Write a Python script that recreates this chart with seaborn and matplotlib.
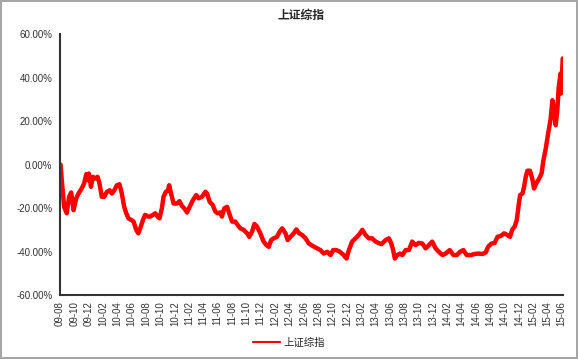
import pandas as pd
import matplotlib.pyplot as plt
import matplotlib.dates as mdates
import matplotlib.ticker as mticker
import seaborn as sns

# Shanghai Composite, cumulative change since Aug 2009 (%)
dates = [
    "2009-08-03", "2009-08-08", "2009-08-18", "2009-08-29", "2009-09-08", "2009-09-17", "2009-09-27",
    "2009-10-08", "2009-10-18", "2009-11-01", "2009-11-11", "2009-11-20", "2009-11-25", "2009-12-01",
    "2009-12-10", "2009-12-18", "2009-12-28", "2010-01-07", "2010-01-15", "2010-01-25", "2010-02-04",
    "2010-02-16", "2010-02-27", "2010-03-09", "2010-03-19", "2010-03-30", "2010-04-10", "2010-04-20",
    "2010-04-30", "2010-05-09", "2010-05-18", "2010-05-29", "2010-06-09", "2010-06-20", "2010-06-29",
    "2010-07-07", "2010-07-19", "2010-07-28", "2010-08-09", "2010-08-19", "2010-08-30", "2010-09-09",
    "2010-09-19", "2010-09-27", "2010-10-07", "2010-10-14", "2010-10-24", "2010-11-02", "2010-11-07",
    "2010-11-15", "2010-11-26", "2010-12-10", "2010-12-21", "2010-12-31", "2011-01-10", "2011-01-22",
    "2011-02-02", "2011-02-16", "2011-03-02", "2011-03-12", "2011-03-26", "2011-04-10", "2011-04-17",
    "2011-04-28", "2011-05-11", "2011-05-22", "2011-06-01", "2011-06-12", "2011-06-19", "2011-06-29",
    "2011-07-11", "2011-07-20", "2011-08-01", "2011-08-15", "2011-08-25", "2011-09-05", "2011-09-19",
    "2011-10-04", "2011-10-13", "2011-10-25", "2011-11-04", "2011-11-15", "2011-11-29", "2011-12-13",
    "2011-12-25", "2012-01-04", "2012-01-14", "2012-01-25", "2012-02-08", "2012-02-19", "2012-03-01",
    "2012-03-15", "2012-03-24", "2012-04-05", "2012-04-19", "2012-04-30", "2012-05-10", "2012-05-25",
    "2012-06-08", "2012-06-22", "2012-07-10", "2012-07-27", "2012-08-10", "2012-08-24", "2012-09-08",
    "2012-09-22", "2012-10-03", "2012-10-17", "2012-11-01", "2012-11-17", "2012-11-29", "2012-12-09",
    "2012-12-23", "2013-01-06", "2013-01-20", "2013-02-04", "2013-02-18", "2013-03-04", "2013-03-18",
    "2013-04-01", "2013-04-20", "2013-04-26", "2013-05-14", "2013-05-28", "2013-06-07", "2013-06-15",
    "2013-06-22", "2013-07-02", "2013-07-14", "2013-07-24", "2013-08-07", "2013-08-21", "2013-09-04",
    "2013-09-18", "2013-10-02", "2013-10-17", "2013-10-31", "2013-11-14", "2013-11-28", "2013-12-12",
    "2013-12-26", "2014-01-10", "2014-01-24", "2014-02-10", "2014-02-26", "2014-03-12", "2014-03-26",
    "2014-04-09", "2014-04-23", "2014-05-10", "2014-05-27", "2014-06-10", "2014-06-29", "2014-07-13",
    "2014-07-23", "2014-08-06", "2014-08-20", "2014-09-01", "2014-09-15", "2014-09-29", "2014-10-13",
    "2014-10-24", "2014-11-03", "2014-11-13", "2014-11-22", "2014-11-29", "2014-12-06", "2014-12-16",
    "2014-12-23", "2014-12-30", "2015-01-06", "2015-01-17", "2015-01-28", "2015-02-03", "2015-02-13",
    "2015-02-25", "2015-03-07", "2015-03-15", "2015-03-25", "2015-04-04", "2015-04-15", "2015-04-22",
    "2015-04-29", "2015-05-06", "2015-05-13", "2015-05-19", "2015-05-27", "2015-05-29", "2015-06-05",
]
values = [
    0.0, -7.1, -19.4, -22.4, -14.8, -12.8, -21.0,
    -15.6, -13.3, -10.9, -8.6, -4.4, -7.1, -4.1,
    -10.2, -5.6, -6.4, -5.6, -8.6, -14.8, -14.8,
    -12.5, -11.8, -13.3, -11.8, -9.5, -9.0, -13.3,
    -19.4, -22.4, -24.7, -25.4, -26.2, -30.0, -31.6,
    -29.3, -25.4, -23.1, -23.9, -23.9, -23.1, -22.4,
    -23.9, -24.7, -20.1, -14.8, -12.5, -11.8, -9.5,
    -13.3, -17.9, -17.9, -16.8, -19.0, -20.1, -22.0,
    -19.4, -16.3, -14.0, -15.5, -14.8, -12.5, -13.3,
    -17.1, -18.6, -21.6, -22.4, -22.0, -23.9, -20.1,
    -19.4, -22.4, -26.2, -26.2, -27.8, -29.3, -30.0,
    -31.6, -33.2, -30.8, -27.3, -28.5, -31.6, -35.4,
    -37.0, -37.8, -34.7, -33.9, -33.2, -30.8, -29.3,
    -31.6, -34.7, -33.2, -31.6, -29.8, -31.4, -32.4,
    -33.9, -36.3, -37.5, -38.5, -39.3, -40.9, -40.1,
    -41.6, -39.3, -39.3, -40.1, -41.6, -43.2, -39.3,
    -35.4, -33.9, -32.4, -30.0, -32.4, -33.9, -33.9,
    -35.4, -36.3, -36.6, -34.7, -33.9, -36.3, -39.3,
    -43.2, -41.6, -40.9, -41.6, -39.3, -39.3, -35.4,
    -37.0, -36.0, -36.3, -38.5, -37.0, -35.4, -38.5,
    -40.1, -41.6, -40.9, -39.3, -41.6, -41.6, -40.1,
    -39.3, -41.6, -41.6, -41.1, -40.9, -41.1, -40.4,
    -37.8, -36.3, -36.0, -33.2, -32.8, -31.6, -32.4,
    -33.2, -29.8, -28.5, -25.4, -19.4, -14.0, -13.3,
    -10.2, -5.6, -2.8, -2.8, -7.1, -11.0, -8.6,
    -6.4, -4.1, 2.0, 7.4, 14.3, 21.2, 29.6,
    25.8, 18.1, 25.0, 35.8, 41.9, 32.7, 48.8,
]
series_name = "上证综指"

df = pd.DataFrame({"date": pd.to_datetime(dates), "change": values})

sns.set_theme(style="white")
plt.rcParams['font.family'] = ['Liberation Sans', 'Noto Sans CJK SC']

fig = plt.figure(figsize=(5.78, 3.59), dpi=100)
fig.patch.set_edgecolor('#a6a6a6')
fig.patch.set_linewidth(1.5)
ax = fig.add_axes([0.104, 0.178, 0.870, 0.727])

sns.lineplot(data=df, x="date", y="change", color="#ff0000", linewidth=3.2,
             label=series_name, ax=ax)

ax.set_ylim(-60, 60)
ax.yaxis.set_major_locator(mticker.MultipleLocator(20))
ax.yaxis.set_major_formatter(mticker.FuncFormatter(lambda v, p: f"{v:.2f}%"))
ax.set_xlim(pd.Timestamp("2009-08-01"), pd.Timestamp("2015-06-06"))
ax.xaxis.set_major_locator(mdates.MonthLocator(bymonth=[2, 4, 6, 8, 10, 12]))
ax.xaxis.set_major_formatter(mdates.DateFormatter("%y-%m"))
ax.tick_params(axis="x", rotation=90, labelsize=7, length=2.5, width=1, pad=2, colors="#333333")
ax.tick_params(axis="y", labelsize=7, length=3.5, width=1, pad=2, colors="#333333")
for lbl in ax.get_xticklabels() + ax.get_yticklabels():
    lbl.set_color("#333333")
ax.set_xlabel("")
ax.set_ylabel("")
for s in ["top", "right"]:
    ax.spines[s].set_visible(False)
for s in ["left", "bottom"]:
    ax.spines[s].set_color("#333333")
    ax.spines[s].set_linewidth(1.5)

fig.suptitle(series_name, x=0.52, y=0.975, fontsize=8.5, fontweight="bold",
             family=['Noto Sans CJK SC', 'DejaVu Sans'])
leg = ax.legend(loc="center", bbox_to_anchor=(0.5, 0.045), bbox_transform=fig.transFigure,
                frameon=False, fontsize=7.5, handlelength=2.6, handletextpad=0.3,
                prop={'family': ['Noto Sans CJK SC', 'DejaVu Sans'], 'size': 7.5})
for line in leg.get_lines():
    line.set_linewidth(1.5)

fig.savefig("out.png", dpi=100)
